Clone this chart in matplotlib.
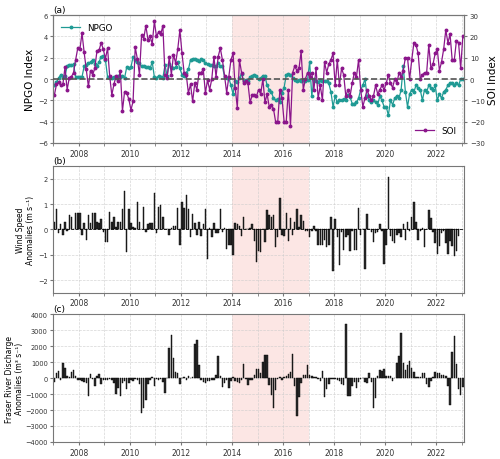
import numpy as np
import matplotlib
matplotlib.use("Agg")
import matplotlib.pyplot as plt
from matplotlib.ticker import MultipleLocator

# -----------------------------
# monthly data, Jan 2007 onwards
# -----------------------------
npgo = [
    -0.6, -0.3, 0.1, 0.4, 0.2, 0.3, 1.2, 1.3, 1.3, 1.4, 0.2, 0.2,      # 2007
    0.2, 0.2, 1.2, 1.3, 1.5, 1.6, 1.8, 1.4, 1.2, 1.6, 2.1, 2.2,        # 2008
    1.8, 0.2, 0.1, 0.1, 0.2, 0.1, 0.3, 0.2, 0.3, 0.1, 1.1, 1.0,        # 2009
    1.1, 2.1, 1.8, 1.6, 1.5, 1.2, 1.2, 1.1, 1.1, 1.0, 1.6, 0.2,        # 2010
    0.1, 0.3, 0.2, 0.1, 1.3, 0.3, 1.4, 1.1, 1.0, 1.1, 1.6, 1.0,        # 2011
    0.4, 0.3, 0.6, 0.9, 1.8, 1.9, 1.9, 1.8, 1.7, 1.9, 1.8, 1.5,        # 2012
    1.4, 1.3, 1.3, 1.2, 1.2, 1.5, 1.2, 1.2, 0.2, 0.1, 0.1, -0.6,       # 2013
    -1.4, -0.2, -0.3, 0.1, 0.5, -0.2, -0.1, -0.2, 0.2, 0.3, 0.4, 0.3,  # 2014
    0.0, 0.1, 0.3, 0.3, -0.6, -1.0, -1.2, -1.8, -2.0, -1.9, -2.2, -1.3,  # 2015
    -0.8, 0.4, 0.5, 0.4, 0.1, -0.1, -0.2, -0.1, -0.2, -0.1, -0.2, -0.1,  # 2016
    1.6, -1.6, 0.0, -0.2, -0.3, -0.1, -0.2, -0.2, -0.2, -0.4, -1.2, -2.6,  # 2017
    -1.6, -2.2, -2.0, -2.0, -1.9, -2.0, -1.5, -1.7, -2.3, -2.3, -2.2, -1.8,  # 2018
    -1.0, -0.6, 0.0, -1.6, -2.0, -2.2, -2.0, -2.2, -2.4, -1.6, -2.0, -2.6,  # 2019
    -2.6, -3.4, -2.0, -2.4, -1.8, -1.6, -1.8, -1.0, 1.2, -1.2, -2.6, -1.4,  # 2020
    -1.0, -1.2, -0.6, -0.8, -1.0, -2.0, -1.0, -1.2, -0.6, -0.8, -1.0, -0.6,  # 2021
    -2.0, -1.4, -1.8, -1.2, -1.0, -0.6, -0.4, -0.4, -0.6, -0.4, -0.6, 0.0,  # 2022
    0.0,                                                                  # 2023
]

soi = [
    -7.5, -2.5, -1.5, -3, -2.5, 5.5, -5, 0.5, 1, 3, 9, 14.5,        # 2007
    14, 21.5, 12.5, 4.5, -3.5, 4, 2, 5, 13, 13.5, 17, 14,           # 2008
    9.5, 14.5, 1.5, -7.5, -2.5, 1.5, -1, 4, -15, -6, -6.5, -9.5,    # 2009
    -14.5, -10.5, 15, 9.5, 2, 20.5, 19, 25, 18.5, 20, 16.5, 27,     # 2010
    20, 22, 21, 25, 2, 0.5, 10.5, 2, 11.5, 7.5, 14, 23,             # 2011
    12, 3, 2, -6.5, -2.5, -10.5, -2, -5, 3, 3, 4.5, -6.5,           # 2012
    -0.5, -5, 0, 10.5, 1, 10.5, 14.5, 9, 1.5, -6.5, 1, 9,           # 2013
    12, -4, -13.5, 9, 3, -2, -1, -2, -11, -7.5, -7.5, -8,           # 2014
    -5, -7, 0, -11, -7, -13, -12, -14, -20, -20, -5, -9,            # 2015
    -20, -20, -5, -22, 3, 6, 4, 5, 13, -5, 0, 3,                    # 2016
    1, 3, -5, 5, -9, -3, -10, 8, 3, 7, 9, 12,                       # 2017
    -3, 9, -3, 5, 2, -8, -5, -8, -2, 3, 1, 9,                       # 2018
    -5, -13, -9, -5, -8, -10, -8, -3, -7, -5, -3, -5,               # 2019
    -2, 2, -2, -4, 0, -2, 3, 1, 4, 10, 10, 0,                       # 2020
    9, 17, 16, 12, 0, 2, 3, 3, 16, 5, 7, 12,                        # 2021
    14, 4, 8, 14, 23, 17, 21, 9, 9, 18, 17, 5,                      # 2022
    20,                                                             # 2023
]

wind = [
    0.3, 0.8, -0.15, 0.2, -0.2, 0.3, -0.05, 0.55, 0.5, 0.0, 0.65, 0.65,     # 2007
    0.65, -0.2, 0.25, -0.4, 0.55, 0.25, 0.65, 0.65, 0.3, 0.25, 0.4, -0.1,    # 2008
    -0.5, -0.5, 0.7, 0.3, 0.5, 0.1, 0.3, 0.3, 0.8, 1.5, -0.9, 0.8,           # 2009
    0.25, 0.1, 0.05, 1.1, 0.3, 0.0, 0.9, -0.1, 0.2, 0.25, 0.25, 1.45,        # 2010
    -0.15, 0.9, 0.95, 0.5, 0.0, 0.0, -0.2, 0.05, 0.15, 0.15, 0.85, -0.6,     # 2011
    1.1, 0.85, 1.35, 0.8, -0.3, 0.6, 0.25, -0.2, 0.3, -0.25, 0.2, 0.8,       # 2012
    -1.15, 0.05, -0.3, 0.25, -0.15, -0.15, 0.8, -0.1, 0.05, -0.75, -0.6, -0.6,  # 2013
    -1.0, 0.25, 0.2, 0.15, -0.25, 0.5, 0.0, 0.0, 0.05, 0.2, -0.45, -1.3,     # 2014
    -0.85, -0.9, 0.0, -0.5, 0.75, 0.55, 0.5, 0.55, -0.7, -0.3, 1.25, -0.2,   # 2015
    -0.25, 0.65, -0.45, 0.45, -0.2, 0.3, 0.8, 0.1, 0.55, 0.35, -0.05, -0.05, # 2016
    -0.3, -0.05, 0.15, -0.05, -0.6, -0.6, -0.6, -0.4, -0.7, -0.6, 0.5, -1.65,  # 2017
    0.4, -0.3, -1.4, -0.1, -0.8, -0.3, -0.2, -0.85, -0.05, -0.8, -0.8, 0.85,   # 2018
    -0.2, 0.0, -1.55, 0.6, 0.0, -0.1, -0.5, -0.15, -0.1, 0.2, -0.05, -1.35,    # 2019
    -0.6, 2.05, -0.25, -0.45, -0.55, -0.2, -0.15, -0.3, 0.2, -0.4, 0.3, -0.05, # 2020
    0.5, 1.1, 0.3, -0.4, -0.05, 0.05, -0.7, 0.0, 0.75, 0.45, -0.1, -0.55,      # 2021
    -0.95, -0.65, -0.15, -0.05, -0.55, -0.95, -0.45, -0.65, -1.05, -0.85, -0.25,  # 2022
]

discharge = [
    -250, 300, 450, -150, 950, 600, 100, 50, 400, 500, 100, -100,             # 2007
    -150, -200, -250, -300, -1150, 250, -50, -500, 150, 250, -400, -100,      # 2008
    -100, -150, -50, -100, -300, -1000, -650, -1100, -300, -200, -700, -300,  # 2009
    -100, -200, -50, -100, -400, -2200, -1850, -1400, -400, -100, 50, -500,   # 2010
    -50, -100, -50, -250, -950, 0, 1900, 2700, 1250, 400, 300, -350,          # 2011
    0, 50, -100, 150, 0, 50, 2100, 2400, 800, -100, -250, -300,               # 2012
    -200, -200, -150, -100, 200, 1350, 150, -550, -300, -100, -650, -200,     # 2013
    50, -200, -250, -300, -100, 900, -50, -450, -100, -100, 200, 550,         # 2014
    550, 300, 1000, 1450, 1450, -450, -1050, -1900, -750, -50, 50, -100,      # 2015
    50, 100, 250, 400, 1500, -500, -2350, -1200, -300, 200, 200, 800,         # 2016
    200, 100, 50, 50, -50, -200, 450, -1200, -700, -400, -50, -50,            # 2017
    -50, -100, -200, -350, -450, 3400, -1150, -1150, -500, -250, -600, -250,  # 2018
    -50, 0, -250, -300, 300, -250, -1850, -1250, 150, 500, 450, 550,          # 2019
    100, 100, 150, -200, 0, 950, 1350, 2800, 950, 500, 800, 1050,             # 2020
    600, 400, 50, 50, 50, 300, 300, -400, -550, -200, 50, 350,                # 2021
    300, 300, 200, 200, 100, -500, -1700, 1650, 2650, 900, -700, -1050,       # 2022
    -550,                                                                     # 2023
]

year_ticks = list(range(2008, 2023, 2))


def months(series):
    # decimal year at mid-month
    return 2007 + (np.arange(len(series)) + 0.5) / 12


def style_axis(ax):
    ax.set_xlim(2007.0, 2023.1)
    ax.xaxis.set_minor_locator(MultipleLocator(1))
    ax.set_xticks(year_ticks)
    ax.set_xticklabels([str(y) for y in year_ticks])
    ax.grid(which="both", axis="x", linestyle="--", color="#cccccc", linewidth=0.5, alpha=0.8)
    ax.grid(which="major", axis="y", linestyle="--", color="#cccccc", linewidth=0.5, alpha=0.8)
    ax.axvspan(2014.0, 2017.0, color="#fce6e4", zorder=0, lw=0)
    for s in ax.spines.values():
        s.set_color("#777777")
    ax.tick_params(which="both", colors="#777777", labelcolor="#333333", length=2.5, pad=1.5)
    ax.tick_params(axis="x", labelsize=5.5)
    ax.tick_params(axis="y", labelsize=4.8)
    ax.set_axisbelow(True)


fig = plt.figure(figsize=(5, 4.6), dpi=100)

# -----------------------------
# (a) NPGO / SOI
# -----------------------------
ax1 = fig.add_axes([0.1066, 0.687, 0.822, 0.278])
style_axis(ax1)
ax1.plot(months(npgo), npgo, color="#1f9a94", lw=0.9, marker="o", ms=1.8, label="NPGO")
ax1.set_ylim(-6, 6)
ax1.yaxis.set_major_locator(MultipleLocator(2))
ax1.set_ylabel("NPGO Index", fontsize=7.5)
ax1.yaxis.set_label_coords(-0.045, 0.5)
ax1.legend(loc="upper left", frameon=False, fontsize=6.3, handlelength=2.2)

ax1b = ax1.twinx()
ax1b.plot(months(soi), soi, color="#8b168b", lw=0.9, marker="o", ms=1.8, label="SOI")
ax1b.set_ylim(-30, 30)
ax1b.yaxis.set_major_locator(MultipleLocator(10))
ax1b.set_ylabel("SOI Index", fontsize=7.5)
ax1b.yaxis.set_label_coords(1.058, 0.5)
for s in ax1b.spines.values():
    s.set_color("#777777")
ax1b.tick_params(colors="#777777", labelcolor="#333333", labelsize=5.0, length=2.5, pad=1.5)
ax1b.axhline(0, color="#555555", ls="--", lw=1.2, zorder=5)
ax1b.legend(loc="lower right", frameon=False, fontsize=6.3, handlelength=2.2)
ax1.text(0.0, 1.01, "(a)", transform=ax1.transAxes, fontsize=6.5, va="bottom")

# -----------------------------
# (b) wind speed anomalies
# -----------------------------
ax2 = fig.add_axes([0.1066, 0.361, 0.822, 0.276])
style_axis(ax2)
ax2.bar(months(wind), wind, width=0.058, color="#2b2b2b", edgecolor="black", linewidth=0.3)
ax2.axhline(0, color="black", ls="--", lw=0.6)
ax2.set_ylim(-2.5, 2.5)
ax2.yaxis.set_major_locator(MultipleLocator(1))
ax2.set_ylabel("Wind Speed\nAnomalies (m s⁻¹)", fontsize=5.5, linespacing=1.15)
ax2.yaxis.set_label_coords(-0.045, 0.5)
ax2.text(0.0, 1.01, "(b)", transform=ax2.transAxes, fontsize=6.5, va="bottom")

# -----------------------------
# (c) Fraser River discharge anomalies
# -----------------------------
ax3 = fig.add_axes([0.1066, 0.037, 0.822, 0.278])
style_axis(ax3)
ax3.bar(months(discharge), discharge, width=0.058, color="#2b2b2b", edgecolor="black", linewidth=0.3)
ax3.set_ylim(-4000, 4000)
ax3.yaxis.set_major_locator(MultipleLocator(1000))
ax3.set_ylabel("Fraser River Discharge\nAnomalies (m³ s⁻¹)", fontsize=5.5, linespacing=1.15)
ax3.yaxis.set_label_coords(-0.072, 0.5)
ax3.text(0.0, 1.01, "(c)", transform=ax3.transAxes, fontsize=6.5, va="bottom")

fig.savefig("out.png", dpi=100)
